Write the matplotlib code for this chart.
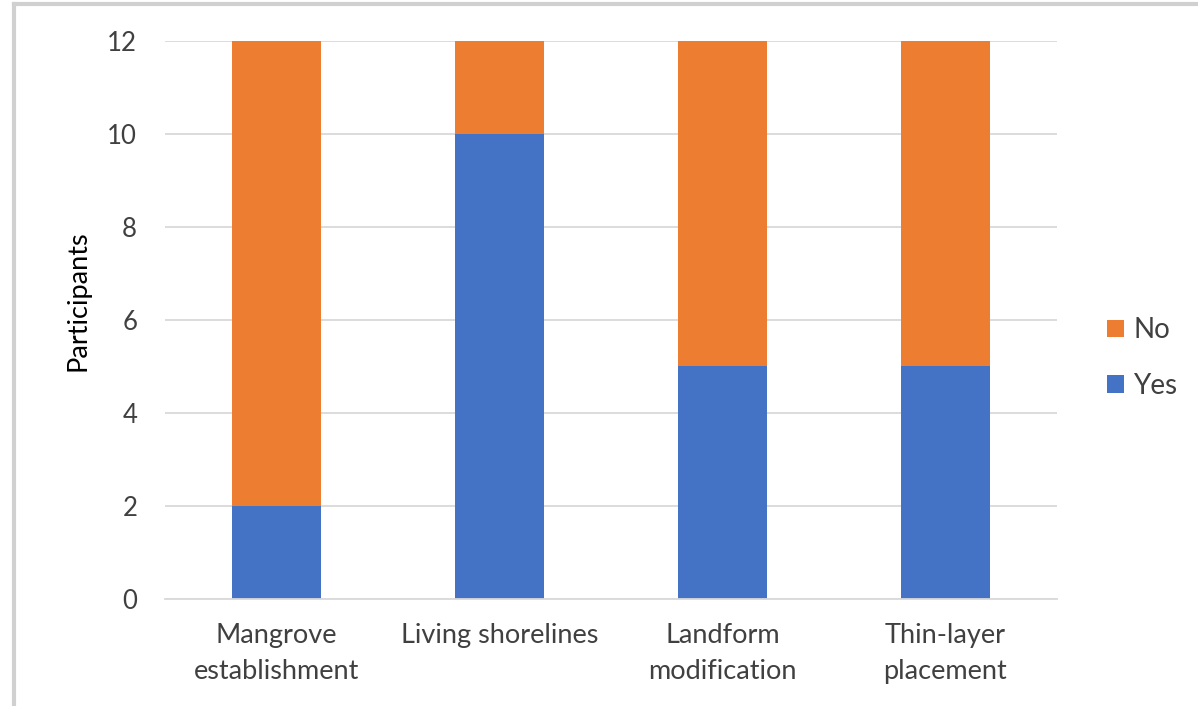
import numpy as np
import matplotlib.pyplot as plt
from matplotlib.lines import Line2D
from matplotlib.patches import Patch

plt.rcParams['font.family'] = ['Lato', 'DejaVu Sans']

categories = ["Mangrove\nestablishment", "Living shorelines",
              "Landform\nmodification", "Thin-layer\nplacement"]
yes_counts = [2, 10, 5, 5]
no_counts = [10, 2, 7, 7]

BLUE = '#4472C4'
ORANGE = '#ED7D31'
GRID = '#D9D9D9'
TEXT = '#404040'

fig = plt.figure(figsize=(11.98, 7.06), dpi=100)
ax = fig.add_axes([0.1377, 0.1516, 0.7446, 0.7903])

x = np.arange(len(categories))
ax.bar(x, yes_counts, width=0.4, color=BLUE, zorder=3)
ax.bar(x, no_counts, width=0.4, bottom=yes_counts, color=ORANGE, zorder=3)

ax.set_xlim(-0.5, len(categories) - 0.5)
ax.set_ylim(0, 12)
ax.set_yticks(range(0, 13, 2))
ax.set_xticks(x)
ax.set_xticklabels(categories, fontsize=19.5, color=TEXT, linespacing=1.58,
                   verticalalignment='top')
ax.tick_params(axis='y', labelsize=18.5, labelcolor=TEXT, length=0, pad=20)
ax.tick_params(axis='x', length=0, pad=17)
ax.grid(axis='y', color=GRID, linewidth=1.3, zorder=0)
for side in ['top', 'right', 'left']:
    ax.spines[side].set_visible(False)
ax.spines['bottom'].set_color(GRID)
ax.spines['bottom'].set_linewidth(1.3)
ax.spines['bottom'].set_zorder(4)

ax.set_ylabel('Participants', fontsize=19.5, color='black')
ax.yaxis.set_label_coords(-0.084, 0.534)

handles = [Patch(facecolor=ORANGE, label='No'), Patch(facecolor=BLUE, label='Yes')]
fig.legend(handles=handles, loc='center left', bbox_to_anchor=(0.924, 0.493),
           frameon=False, fontsize=20, handlelength=0.6, handleheight=0.6,
           handletextpad=0.35, labelspacing=1.05, labelcolor=TEXT,
           borderpad=0, borderaxespad=0)

# light frame along the top and left edges
fig.add_artist(Line2D([0.012, 1.0], [0.995, 0.995], color='#D0D0D0', linewidth=3,
                      transform=fig.transFigure))
fig.add_artist(Line2D([0.012, 0.012], [0.0, 0.995], color='#D0D0D0', linewidth=3,
                      transform=fig.transFigure))

fig.savefig('out.png', dpi=100)
